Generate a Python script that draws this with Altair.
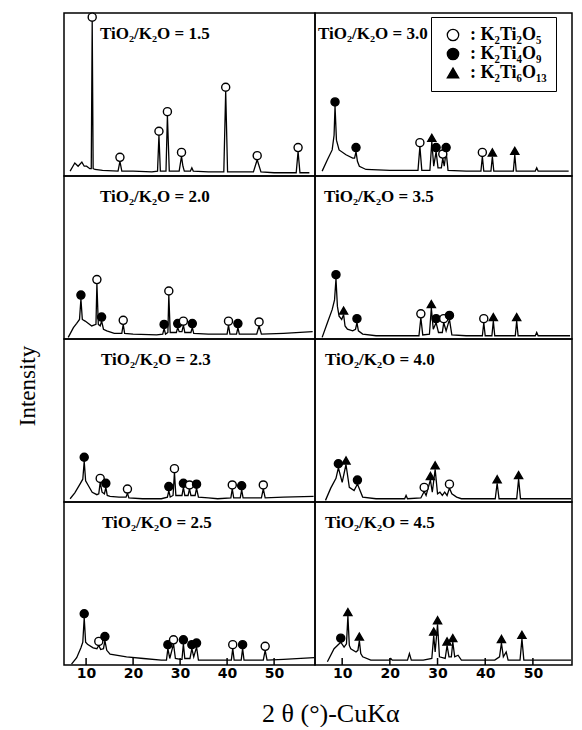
import altair as alt
import pandas as pd

# ---------------- data (2theta in degrees, intensity in % of panel height) -------------
PHASES = ["K₂Ti₂O₅", "K₂Ti₄O₉", "K₂Ti₆O₁₃"]
CODE = {"A": PHASES[0], "B": PHASES[1], "C": PHASES[2]}
TICK_VALUES = [10, 20, 30, 40, 50]
REF_MARKS = [10, 20, 30, 40, 50]

ratio_15 = "TiO₂/K₂O = 1.5"
trace_15 = [(6.6, 3), (7.2, 6), (7.6, 8), (8.3, 6), (9.1, 8.5), (9.6, 6), (10.1, 6), (10.8, 4.5),
            (11.1, 4.5), (11.3, 95), (11.5, 4.5), (11.9, 4), (13.5, 3.5), (16.8, 3), (17.2, 9),
            (17.6, 3), (20.0, 3), (24.0, 2.5), (25.2, 3), (25.5, 25), (25.8, 3), (27.0, 3),
            (27.3, 37), (27.7, 3), (29.8, 3), (30.3, 12), (30.6, 6), (30.9, 3), (32.2, 3),
            (32.5, 5), (32.8, 3), (36.0, 2.5), (39.3, 2.5), (39.7, 52), (40.1, 2.5), (43.0, 2.5),
            (45.6, 2.5), (46.4, 10), (47.2, 2.5), (50.0, 2), (54.7, 2), (55.1, 15), (55.5, 2), (57.5, 2)]
peaks_15 = [(11.3, 95, "A"), (17.2, 9, "A"), (25.5, 25, "A"), (27.3, 37, "A"), (30.3, 12, "A"),
            (39.7, 52, "A"), (46.4, 10, "A"), (55.1, 15, "A")]

ratio_30 = "TiO₂/K₂O = 3.0"
trace_30 = [(5.8, 3), (6.9, 10), (7.9, 16), (8.3, 25), (8.5, 43), (8.8, 22), (9.35, 16), (10.8, 13),
            (12.2, 11), (12.6, 11), (12.9, 15), (13.2, 9), (13.6, 6), (15.0, 4), (20.0, 3.5),
            (25.9, 3.5), (26.3, 18), (26.7, 3.5), (28.4, 3.5), (28.8, 21), (29.2, 6), (29.7, 15),
            (30.1, 5), (30.8, 5), (31.1, 11), (31.4, 6), (31.8, 15), (32.2, 3.5), (36.0, 3),
            (39.1, 3), (39.4, 12), (39.7, 3), (41.2, 3), (41.5, 12), (41.8, 3), (45.9, 3), (46.2, 13),
            (46.5, 3), (50.5, 3), (50.8, 5), (51.1, 3), (57.5, 3)]
peaks_30 = [(8.5, 43, "B"), (12.9, 15, "B"), (26.3, 18, "A"), (28.8, 21, "C"), (29.7, 15, "B"),
            (31.1, 11, "A"), (31.8, 15, "B"), (39.4, 12, "A"), (41.5, 12, "C"), (46.2, 13, "C")]

ratio_20 = "TiO₂/K₂O = 2.0"
trace_20 = [(6.2, 1), (7.3, 7), (8.0, 9.6), (8.6, 12), (8.9, 24.5), (9.2, 12), (9.8, 11), (11.2, 8),
            (12.1, 9), (12.3, 34), (12.6, 9), (13.0, 8), (13.3, 11), (13.7, 6), (14.4, 5), (16.0, 3.5),
            (17.6, 3.5), (17.9, 9), (18.2, 3.5), (20.0, 3), (25.0, 2.5), (26.3, 3), (26.6, 6.5),
            (26.9, 3), (27.4, 4), (27.6, 27), (27.9, 4), (29.2, 4), (29.5, 7), (29.8, 4.5), (30.4, 4.5),
            (30.7, 8.5), (31.0, 4), (32.3, 4), (32.6, 7), (32.9, 3.5), (36.0, 3), (40.0, 3), (40.3, 8.5),
            (40.6, 3), (42.0, 3), (42.3, 7), (42.6, 3), (46.3, 3), (46.8, 8), (47.3, 3), (52.0, 3.5),
            (58.2, 4.5)]
peaks_20 = [(8.9, 24.5, "B"), (12.3, 34, "A"), (13.3, 11, "B"), (17.9, 9, "A"), (26.6, 6.5, "B"),
            (27.6, 27, "A"), (29.5, 7, "B"), (30.7, 8.5, "A"), (32.6, 7, "B"), (40.3, 8.5, "A"),
            (42.3, 7, "B"), (46.8, 8, "A")]

ratio_35 = "TiO₂/K₂O = 3.5"
trace_35 = [(5.8, 1), (6.9, 10), (7.9, 18), (8.4, 24), (8.7, 37), (9.0, 20), (9.35, 14), (9.9, 12),
            (10.3, 15), (10.6, 8), (11.1, 6), (12.2, 5), (12.8, 6), (13.1, 10), (13.4, 5), (14.3, 3),
            (17.1, 2), (22.0, 2), (26.1, 2), (26.5, 13), (26.9, 2.5), (28.3, 3), (28.7, 19), (29.1, 6),
            (29.7, 10), (30.2, 4), (31.0, 4), (31.3, 10), (31.8, 5), (32.5, 12), (33.0, 2.5), (36.0, 2),
            (39.4, 2), (39.7, 10), (40.0, 2), (41.4, 2), (41.7, 11), (42.0, 2), (46.3, 2), (46.6, 11),
            (46.9, 2), (50.5, 2), (50.8, 4), (51.1, 2), (57.8, 2)]
peaks_35 = [(8.7, 37, "B"), (10.3, 15, "C"), (13.1, 10, "B"), (26.5, 13, "A"), (28.7, 19, "C"),
            (29.7, 10, "B"), (31.3, 10, "A"), (32.5, 12, "B"), (39.7, 10, "A"), (41.7, 11, "C"),
            (46.6, 11, "C")]

ratio_23 = "TiO₂/K₂O = 2.3"
trace_23 = [(6.6, 2), (7.6, 5.6), (8.7, 11), (9.3, 14), (9.6, 25), (9.9, 13), (10.5, 10), (11.3, 6),
            (12.3, 4.5), (12.7, 5), (13.0, 12), (13.4, 6), (13.9, 5), (14.2, 9), (14.5, 4), (15.1, 3.5),
            (17.0, 3), (18.5, 3), (18.8, 5.5), (19.1, 2.5), (22.0, 2), (26.0, 2), (27.3, 3), (27.6, 7),
            (27.9, 3), (28.5, 4), (28.8, 18), (29.1, 4), (30.0, 4), (30.4, 4), (30.7, 9), (31.0, 4),
            (31.7, 4), (32.0, 8), (32.3, 4), (33.2, 4), (33.5, 8.5), (33.9, 3), (36.0, 2.5), (38.0, 2),
            (40.8, 2.5), (41.1, 8), (41.4, 2.5), (42.8, 2.5), (43.1, 7.5), (43.4, 2.5), (47.3, 2.5),
            (47.7, 8), (48.1, 2.5), (52.0, 3), (58.4, 3.5)]
peaks_23 = [(9.6, 25, "B"), (13.0, 12, "A"), (14.2, 9, "B"), (18.8, 5.5, "A"), (27.6, 7, "B"),
            (28.8, 18, "A"), (30.7, 9, "B"), (32.0, 8, "A"), (33.5, 8.5, "B"), (41.1, 8, "A"),
            (43.1, 7.5, "B"), (47.7, 8, "A")]

ratio_40 = "TiO₂/K₂O = 4.0"
trace_40 = [(6.5, 1), (7.6, 8.5), (8.7, 14.5), (9.2, 21), (10.0, 12), (10.8, 23), (11.5, 9), (12.5, 7),
            (13.2, 11), (14.3, 3), (17.1, 2), (20.0, 2), (23.1, 2), (23.4, 4), (23.7, 2), (26.5, 2.5),
            (27.2, 6.5), (27.6, 4), (28.5, 13.5), (28.9, 6), (29.5, 20), (30.0, 5), (30.5, 6), (31.0, 4),
            (31.5, 6), (32.0, 4), (32.5, 8.5), (33.0, 5), (34.0, 3), (35.0, 2), (42.1, 2), (42.5, 11.5),
            (42.9, 2), (46.6, 2), (47.0, 14), (47.4, 2), (52.0, 2), (58.0, 2)]
peaks_40 = [(9.2, 21, "B"), (10.8, 23, "C"), (13.2, 11, "B"), (27.2, 6.5, "A"), (28.5, 13.5, "C"),
            (29.5, 20, "C"), (32.5, 8.5, "A"), (42.5, 11.5, "C"), (47.0, 14, "C")]

ratio_25 = "TiO₂/K₂O = 2.5"
trace_25 = [(6.9, 0.5), (8.0, 4.5), (8.9, 10.6), (9.3, 14), (9.6, 29), (9.9, 14), (10.3, 12.7),
            (11.5, 10.5), (12.3, 10), (12.7, 12), (13.1, 9.5), (13.7, 10), (14.0, 15), (14.4, 9),
            (15.1, 6.6), (18.6, 5), (22.2, 4), (26.0, 3), (27.1, 3), (27.4, 10), (27.8, 4), (28.6, 13),
            (29.0, 4), (30.1, 3.5), (30.4, 3.5), (30.7, 13), (31.0, 4), (32.1, 4), (32.5, 10), (32.9, 5),
            (33.5, 11), (33.9, 3), (36.0, 3), (40.9, 3), (41.2, 10), (41.5, 3), (43.0, 3), (43.3, 10),
            (43.6, 3), (47.7, 3), (48.1, 9), (48.5, 3), (52.0, 3.5), (58.5, 4.5)]
peaks_25 = [(9.6, 29, "B"), (12.7, 12, "A"), (14.0, 15, "B"), (27.4, 10, "B"), (28.6, 13, "A"),
            (30.7, 13, "B"), (32.5, 10, "B"), (33.5, 11, "B"), (41.2, 10, "A"), (43.3, 10, "B"),
            (48.1, 9, "A")]

ratio_45 = "TiO₂/K₂O = 4.5"
trace_45 = [(6.9, 2), (8.3, 10), (9.0, 12), (9.7, 14), (10.4, 11), (10.9, 13), (11.2, 30), (11.5, 12),
            (11.8, 10), (12.9, 8), (13.3, 9), (13.6, 15), (13.9, 7), (14.3, 5), (16.0, 3), (19.9, 3),
            (20.2, 4), (20.5, 3), (23.7, 3), (24.1, 7), (24.5, 3), (27.0, 3), (28.8, 4), (29.2, 18),
            (29.5, 8), (30.0, 25), (30.4, 5), (31.6, 4), (32.0, 12), (32.4, 5), (32.9, 5), (33.2, 14),
            (33.6, 5), (34.3, 6), (35.0, 3), (42.0, 3), (43.0, 5), (43.4, 13.5), (43.8, 5), (44.4, 8),
            (44.8, 3), (47.3, 3), (47.7, 16), (48.1, 3), (52.0, 3), (58.0, 3)]
peaks_45 = [(9.7, 14, "B"), (11.2, 30, "C"), (13.6, 15, "C"), (29.2, 18, "C"), (30.0, 25, "C"),
            (32.0, 12, "C"), (33.2, 14, "C"), (43.4, 13.5, "C"), (47.7, 16, "C")]

# ---------------- layout / style ----------------
LEFT_DOMAIN = [5.3, 58.7]
RIGHT_DOMAIN = [4.3, 58.2]
W_LEFT, W_RIGHT, H = 251, 257, 163
SERIF = "Liberation Serif"

legend = alt.Legend(
    title=None, orient="none", legendX=430, legendY=4,
    labelExpr="': ' + datum.label", labelFont=SERIF, labelFontSize=18,
    labelFontWeight="bold", labelColor="black", labelLimit=300,
    symbolSize=130, symbolStrokeWidth=1.3,
    strokeColor="black", fillColor="white", padding=9, rowPadding=1,
    symbolOffset=4, labelOffset=8,
)
fill_scale = alt.Scale(domain=PHASES, range=["white", "black", "black"])
stroke_scale = alt.Scale(domain=PHASES, range=["black", "black", "black"])
shape_scale = alt.Scale(domain=PHASES, range=["circle", "circle", "triangle-up"])


def panel(trace, peaks, ratio, col, bottom, text_x):
    dom = LEFT_DOMAIN if col == 0 else RIGHT_DOMAIN
    w = W_LEFT if col == 0 else W_RIGHT
    xs = alt.Scale(domain=dom, nice=False, zero=False)
    ys = alt.Scale(domain=[0, 100], nice=False, zero=True)
    if bottom:
        xaxis = alt.Axis(values=TICK_VALUES, labelFont="DejaVu Sans", labelFontWeight="bold",
                         labelFontSize=14, labelColor="black", ticks=False, domain=False,
                         grid=False, title=None, labelPadding=1)
    else:
        xaxis = None
    tdf = pd.DataFrame(trace, columns=["t", "i"])
    pdf = pd.DataFrame(peaks, columns=["t", "i", "c"])
    pdf["phase"] = pdf["c"].map(CODE)
    line = alt.Chart(tdf).mark_line(color="black", strokeWidth=1.3).encode(
        x=alt.X("t:Q", scale=xs, axis=xaxis),
        y=alt.Y("i:Q", scale=ys, axis=None),
    )
    pts = alt.Chart(pdf).mark_point(filled=True, strokeWidth=1.4, size=65,
                                    opacity=1, yOffset=-4).encode(
        x=alt.X("t:Q", scale=xs),
        y=alt.Y("i:Q", scale=ys),
        fill=alt.Fill("phase:N", scale=fill_scale, legend=legend),
        stroke=alt.Stroke("phase:N", scale=stroke_scale, legend=legend),
        shape=alt.Shape("phase:N", scale=shape_scale, legend=legend),
    )
    txt = alt.Chart(pd.DataFrame({"s": [ratio]})).mark_text(
        align="left", baseline="middle", font=SERIF, fontSize=17, fontWeight="bold",
        color="black").encode(text="s:N", x=alt.value(text_x), y=alt.value(21))
    layers = [line, pts, txt]
    if bottom:
        marks = alt.Chart(pd.DataFrame({"t": REF_MARKS})).mark_rule(
            color="black", strokeWidth=1.5).encode(
            x=alt.X("t:Q", scale=xs), y=alt.value(H), y2=alt.value(H - 7))
        layers.append(marks)
    return alt.layer(*layers).properties(width=w, height=H)


panels = [
    panel(trace_15, peaks_15, ratio_15, 0, False, 36),
    panel(trace_30, peaks_30, ratio_30, 1, False, 3),
    panel(trace_20, peaks_20, ratio_20, 0, False, 36),
    panel(trace_35, peaks_35, ratio_35, 1, False, 9),
    panel(trace_23, peaks_23, ratio_23, 0, False, 37),
    panel(trace_40, peaks_40, ratio_40, 1, False, 10),
    panel(trace_25, peaks_25, ratio_25, 0, True, 38),
    panel(trace_45, peaks_45, ratio_45, 1, True, 10),
]

grid = alt.concat(*panels, columns=2, spacing=0, bounds="flush", title=alt.TitleParams(
    "2 θ (°)-CuKα", orient="bottom", anchor="middle", font=SERIF, fontSize=26,
    fontWeight="normal", color="black", offset=20, dx=12))

ylab = alt.Chart(pd.DataFrame({"s": ["Intensity"]})).mark_text(
    angle=270, font=SERIF, fontSize=23, color="black", align="center", baseline="middle"
).encode(text="s:N", x=alt.value(27), y=alt.value(373)).properties(
    width=61, height=4 * H, view=alt.ViewBackground(stroke="transparent"))

chart = alt.hconcat(ylab, grid, spacing=0).properties(
    padding={"left": 0, "top": 9, "right": 0, "bottom": 0},
    background="white",
).configure_view(stroke="black", strokeWidth=1.5)

chart.save("out.html", embed_options={"renderer": "svg", "actions": False})
